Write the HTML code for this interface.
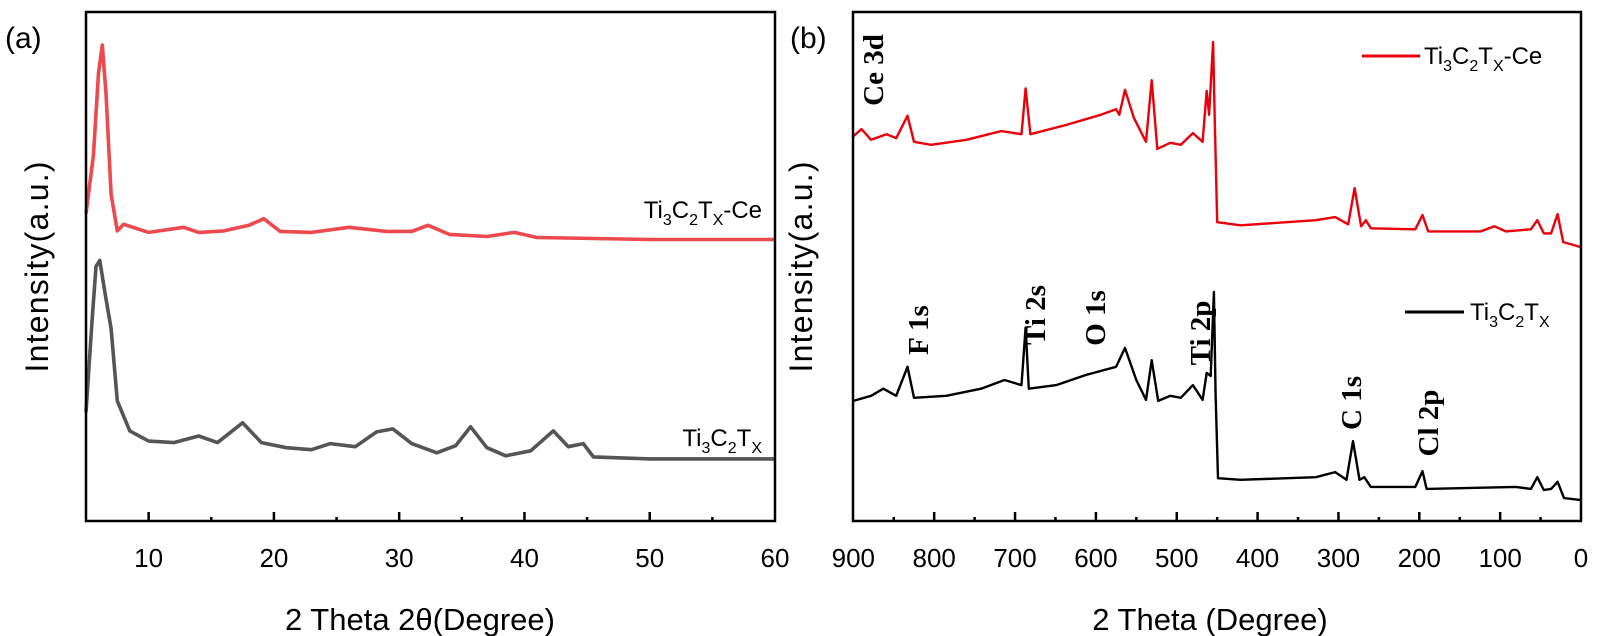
<!DOCTYPE html>
<html><head><meta charset="utf-8"><style>
html,body{margin:0;padding:0;background:#fff;}
svg{display:block;font-family:"Liberation Sans",sans-serif;}
</style></head><body>
<svg id="fig" width="1597" height="636" viewBox="0 0 1597 636" xmlns="http://www.w3.org/2000/svg">
<rect width="1597" height="636" fill="#fff"/>
<text x="5" y="48" font-size="30">(a)</text>
<text x="790" y="48" font-size="30">(b)</text>
<text transform="translate(48,267) rotate(-90)" text-anchor="middle" font-size="32" textLength="211">Intensity(a.u.)</text>
<text transform="translate(812,267) rotate(-90)" text-anchor="middle" font-size="32" textLength="211">Intensity(a.u.)</text>
<text x="420" y="630" text-anchor="middle" font-size="31">2 Theta 2θ(Degree)</text>
<text x="1210" y="630" text-anchor="middle" font-size="31">2 Theta (Degree)</text>
<g id="pa"></g>
<g id="pb"></g>
<rect x="86" y="12" width="689" height="509" fill="none" stroke="#000" stroke-width="2.5"/>
<rect x="853" y="12" width="728" height="509" fill="none" stroke="#000" stroke-width="2.5"/>
<text x="762" y="218" text-anchor="end" font-size="24">Ti<tspan font-size="16" dy="7">3</tspan><tspan dy="-7">C</tspan><tspan font-size="16" dy="7">2</tspan><tspan dy="-7">T</tspan><tspan font-size="16" dy="7">X</tspan><tspan dy="-7">-Ce</tspan></text>
<text x="762" y="446" text-anchor="end" font-size="24">Ti<tspan font-size="16" dy="7">3</tspan><tspan dy="-7">C</tspan><tspan font-size="16" dy="7">2</tspan><tspan dy="-7">T</tspan><tspan font-size="16" dy="7">X</tspan></text>
<line x1="1362" y1="56" x2="1420" y2="56" stroke="#e8000b" stroke-width="3"/>
<text x="1424" y="64" font-size="24">Ti<tspan font-size="16" dy="7">3</tspan><tspan dy="-7">C</tspan><tspan font-size="16" dy="7">2</tspan><tspan dy="-7">T</tspan><tspan font-size="16" dy="7">X</tspan><tspan dy="-7">-Ce</tspan></text>
<line x1="1405" y1="312" x2="1464" y2="312" stroke="#000" stroke-width="3"/>
<text x="1470" y="320" font-size="24">Ti<tspan font-size="16" dy="7">3</tspan><tspan dy="-7">C</tspan><tspan font-size="16" dy="7">2</tspan><tspan dy="-7">T</tspan><tspan font-size="16" dy="7">X</tspan></text>
<g font-family="Liberation Serif, serif" font-weight="bold" font-size="29" text-anchor="middle">
<text transform="translate(883,70) rotate(-90)">Ce 3d</text>
<text transform="translate(928,330) rotate(-90)">F 1s</text>
<text transform="translate(1045,315) rotate(-90)">Ti 2s</text>
<text transform="translate(1105,318) rotate(-90)">O 1s</text>
<text transform="translate(1210,333) rotate(-90)">Ti 2p</text>
<text transform="translate(1361,403) rotate(-90)">C 1s</text>
<text transform="translate(1438,423) rotate(-90)">Cl 2p</text>
</g>
</svg>
<script>
// Panel (a) XRD data
const aTicks = [10, 20, 30, 40, 50, 60];
const aRedX = [5, 5.6, 6.0, 6.3, 6.6, 7, 7.5, 8, 10, 12.8, 14, 16, 18, 19.2, 20.5, 23, 26, 29, 31, 32.3, 34, 37, 39.2, 41, 50, 60];
const aRedY = [60.4, 72, 88, 93.5, 84, 64.2, 57, 58.3, 56.7, 57.7, 56.7, 57, 58.1, 59.4, 56.9, 56.7, 57.7, 56.9, 56.9, 58.1, 56.3, 55.9, 56.7, 55.7, 55.3, 55.3];
const aBlkX = [5, 5.5, 5.8, 6.1, 6.5, 7, 7.5, 8.5, 10, 12, 14, 15.5, 17.5, 19, 21, 23, 24.5, 26.5, 28.2, 29.5, 31, 33, 34.5, 35.7, 37, 38.5, 40.5, 42.3, 43.5, 44.7, 45.5, 50, 60];
const aBlkY = [21.4, 40, 50, 51.2, 45, 37.8, 23.6, 17.7, 15.7, 15.4, 16.7, 15.4, 19.3, 15.4, 14.4, 14, 15.2, 14.6, 17.5, 18.1, 15.2, 13.4, 14.8, 18.5, 14.4, 12.8, 13.8, 17.7, 14.6, 15.2, 12.6, 12.2, 12.2];
// Panel (b) XPS data
const bTicks = [900, 800, 700, 600, 500, 400, 300, 200, 100, 0];
const bRedX = [900, 890, 878, 859, 847, 833, 825, 804, 760, 717, 692, 687, 681, 637, 594, 575, 571, 564, 553, 538, 531, 524, 508, 495, 480, 468, 463, 460, 455, 453, 450, 421, 328, 304, 288, 280, 272, 266, 260, 205, 196, 189, 124, 107, 93, 62, 54, 46, 37, 29, 22, 13, 0];
const bRedY = [75.6, 77, 74.9, 76, 75.2, 79.6, 74.5, 73.9, 74.9, 76.6, 76, 85, 76, 77.8, 79.8, 80.9, 79.8, 84.7, 79.2, 74.5, 86.6, 73.1, 74.3, 73.9, 76.2, 74.5, 84.5, 79.8, 94.1, 79.2, 58.7, 58.1, 59.1, 59.7, 58.3, 65.4, 57.9, 59.1, 57.5, 57.3, 60.1, 56.9, 56.9, 57.9, 56.9, 57.3, 59.1, 56.5, 56.5, 60.3, 54.8, 54.4, 53.8];
const bBlkX = [900, 878, 863, 847, 833, 825, 785, 742, 713, 692, 687, 683, 649, 612, 575, 564, 550, 538, 531, 523, 508, 495, 480, 468, 463, 458, 454, 452, 449, 421, 328, 304, 290, 282, 274, 268, 260, 205, 196, 191, 81, 62, 54, 46, 37, 29, 21, 0];
const bBlkY = [23.6, 24.6, 26, 24.6, 30.3, 24.2, 24.6, 26, 27.7, 26.7, 38, 26, 26.7, 28.7, 30.3, 34, 27.7, 23.8, 31.6, 23.6, 24.6, 24.2, 26.7, 23.8, 29.1, 28.5, 45, 24.8, 8.4, 8.1, 8.6, 9.6, 8.1, 15.7, 8.1, 8.6, 6.7, 6.7, 9.8, 6.3, 6.7, 6.3, 8.6, 6.1, 6.3, 7.7, 4.5, 4.1];

const NS = 'http://www.w3.org/2000/svg';
const yTop = 12, yBot = 521;
function yScale(v){ return yBot - v * (yBot - yTop) / 100; }
function xA(v){ return 86 + (v - 5) * (689 / 55); }
function xB(v){ return 1581 - v * 0.8085; }

function mk(tag, attrs, parent){
  const el = document.createElementNS(NS, tag);
  for (const k in attrs) el.setAttribute(k, attrs[k]);
  parent.appendChild(el);
  return el;
}
function drawLine(parent, xs, ys, xf, color, w){
  let d = '';
  for (let i = 0; i < xs.length; i++) d += (i ? 'L' : 'M') + xf(xs[i]).toFixed(1) + ',' + yScale(ys[i]).toFixed(1);
  return mk('path', {d: d, fill: 'none', stroke: color, 'stroke-width': w, 'stroke-linejoin': 'round'}, parent);
}
const pa = document.getElementById('pa');
const pb = document.getElementById('pb');

const r1 = drawLine(pa, aRedX, aRedY, xA, '#ec4a4f', 3.6);


const b1 = drawLine(pa, aBlkX, aBlkY, xA, '#555555', 3.6);


const r2 = drawLine(pb, bRedX, bRedY, xB, '#e8000b', 2.4);


const b2 = drawLine(pb, bBlkX, bBlkY, xB, '#000000', 2.4);



aTicks.forEach(function(t){
  const x = xA(t);
  if (t < 60) {
    const tk = mk('line', {x1: x, x2: x, y1: yBot, y2: yBot - 9, stroke: '#000', 'stroke-width': 2.5}, pa);
    
    
  }
  if (t + 5 < 60) {
    const mx = xA(t + 5);
    const mt = mk('line', {x1: mx, x2: mx, y1: yBot, y2: yBot - 4, stroke: '#000', 'stroke-width': 2.5}, pa);
    
    
  }
  const lb = mk('text', {x: x, y: 567, 'text-anchor': 'middle', 'font-size': 26}, pa);
  lb.textContent = String(t);
  
  
});
bTicks.forEach(function(t){
  const x = xB(t);
  if (t > 0 && t < 900) {
    const tk = mk('line', {x1: x, x2: x, y1: yBot, y2: yBot - 9, stroke: '#000', 'stroke-width': 2.5}, pb);
    
    
  }
  if (t > 0) {
    const mx = xB(t - 50);
    const mt = mk('line', {x1: mx, x2: mx, y1: yBot, y2: yBot - 4, stroke: '#000', 'stroke-width': 2.5}, pb);
    
    
  }
  const lb = mk('text', {x: x, y: 567, 'text-anchor': 'middle', 'font-size': 26}, pb);
  lb.textContent = String(t);
  
  
});
</script>
</body></html>
